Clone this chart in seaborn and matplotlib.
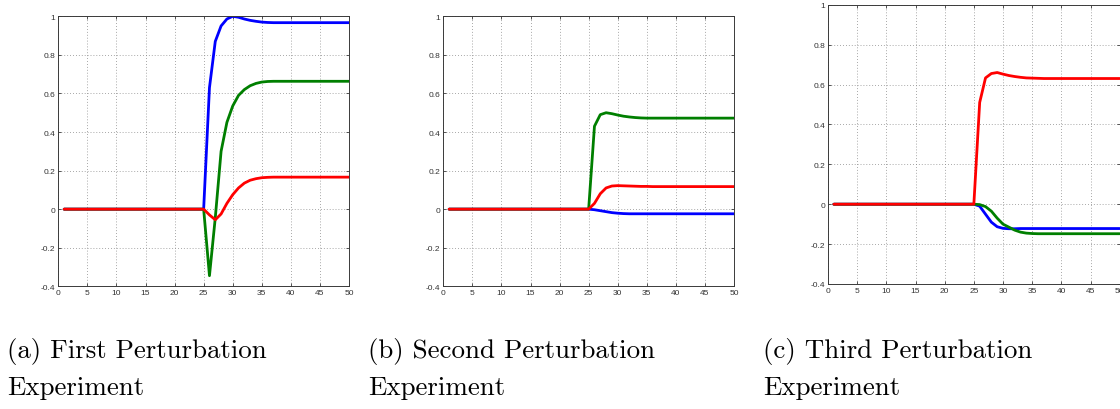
import matplotlib
matplotlib.use("Agg")
import matplotlib.pyplot as plt
from matplotlib.ticker import FuncFormatter
import numpy as np
import pandas as pd
import seaborn as sns

# ---------------- data ----------------
t = list(range(1, 51))

a_blue = [0, 0, 0, 0, 0, 0, 0, 0, 0, 0, 0, 0, 0, 0, 0, 0, 0, 0, 0, 0, 0, 0, 0, 0, 0,
          0.63, 0.87, 0.95, 0.986, 1.0, 0.995, 0.986, 0.979, 0.974, 0.970, 0.968,
          0.967, 0.967, 0.967, 0.967, 0.967, 0.967, 0.967, 0.967, 0.967, 0.967, 0.967, 0.967, 0.967, 0.967]
a_green = [0, 0, 0, 0, 0, 0, 0, 0, 0, 0, 0, 0, 0, 0, 0, 0, 0, 0, 0, 0, 0, 0, 0, 0, 0,
           -0.345, -0.045, 0.30, 0.45, 0.535, 0.59, 0.62, 0.64, 0.652, 0.659, 0.662,
           0.663, 0.663, 0.663, 0.663, 0.663, 0.663, 0.663, 0.663, 0.663, 0.663, 0.663, 0.663, 0.663, 0.663]
a_red = [0, 0, 0, 0, 0, 0, 0, 0, 0, 0, 0, 0, 0, 0, 0, 0, 0, 0, 0, 0, 0, 0, 0, 0, 0,
         -0.03, -0.055, -0.025, 0.03, 0.075, 0.11, 0.135, 0.15, 0.158, 0.163, 0.165,
         0.166, 0.166, 0.166, 0.166, 0.166, 0.166, 0.166, 0.166, 0.166, 0.166, 0.166, 0.166, 0.166, 0.166]

b_blue = [0, 0, 0, 0, 0, 0, 0, 0, 0, 0, 0, 0, 0, 0, 0, 0, 0, 0, 0, 0, 0, 0, 0, 0, 0,
          -0.003, -0.008, -0.013, -0.018, -0.021, -0.023, -0.024, -0.024, -0.024, -0.024, -0.024,
          -0.024, -0.024, -0.024, -0.024, -0.024, -0.024, -0.024, -0.024, -0.024, -0.024, -0.024, -0.024, -0.024, -0.024]
b_green = [0, 0, 0, 0, 0, 0, 0, 0, 0, 0, 0, 0, 0, 0, 0, 0, 0, 0, 0, 0, 0, 0, 0, 0, 0,
           0.43, 0.49, 0.50, 0.495, 0.488, 0.482, 0.478, 0.475, 0.473, 0.472, 0.472,
           0.472, 0.472, 0.472, 0.472, 0.472, 0.472, 0.472, 0.472, 0.472, 0.472, 0.472, 0.472, 0.472, 0.472]
b_red = [0, 0, 0, 0, 0, 0, 0, 0, 0, 0, 0, 0, 0, 0, 0, 0, 0, 0, 0, 0, 0, 0, 0, 0, 0,
         0.03, 0.08, 0.11, 0.12, 0.122, 0.121, 0.12, 0.119, 0.118, 0.118, 0.117,
         0.117, 0.117, 0.117, 0.117, 0.117, 0.117, 0.117, 0.117, 0.117, 0.117, 0.117, 0.117, 0.117, 0.117]

c_blue = [0, 0, 0, 0, 0, 0, 0, 0, 0, 0, 0, 0, 0, 0, 0, 0, 0, 0, 0, 0, 0, 0, 0, 0, 0,
          -0.01, -0.05, -0.09, -0.113, -0.121, -0.123, -0.123, -0.122, -0.122, -0.122, -0.122,
          -0.122, -0.122, -0.122, -0.122, -0.122, -0.122, -0.122, -0.122, -0.122, -0.122, -0.122, -0.122, -0.122, -0.122]
c_green = [0, 0, 0, 0, 0, 0, 0, 0, 0, 0, 0, 0, 0, 0, 0, 0, 0, 0, 0, 0, 0, 0, 0, 0, 0,
           -0.002, -0.012, -0.035, -0.07, -0.1, -0.115, -0.13, -0.14, -0.145, -0.147, -0.148,
           -0.148, -0.148, -0.148, -0.148, -0.148, -0.148, -0.148, -0.148, -0.148, -0.148, -0.148, -0.148, -0.148, -0.148]
c_red = [0, 0, 0, 0, 0, 0, 0, 0, 0, 0, 0, 0, 0, 0, 0, 0, 0, 0, 0, 0, 0, 0, 0, 0, 0,
         0.51, 0.633, 0.655, 0.66, 0.652, 0.645, 0.64, 0.636, 0.633, 0.632, 0.631,
         0.63, 0.63, 0.63, 0.63, 0.63, 0.63, 0.63, 0.63, 0.63, 0.63, 0.63, 0.63, 0.63, 0.63]

series_names = ["blue", "green", "red"]
captions = [("(a) First Perturbation", "Experiment"),
            ("(b) Second Perturbation", "Experiment"),
            ("(c) Third Perturbation", "Experiment")]
x_ticks = [0, 5, 10, 15, 20, 25, 30, 35, 40, 45, 50]
y_ticks = [-0.4, -0.2, 0, 0.2, 0.4, 0.6, 0.8, 1]

panels = [(a_blue, a_green, a_red), (b_blue, b_green, b_red), (c_blue, c_green, c_red)]

# ---------------- styling ----------------
sns.set_style("white")
plt.rcParams["font.family"] = ["Liberation Sans", "DejaVu Sans"]

W, H = 1120, 410
fig = plt.figure(figsize=(W / 100, H / 100), dpi=100)
fig.patch.set_facecolor("white")

# axes boxes in pixel units: left, right, top, bottom
boxes = [(58.3, 349.0, 17.3, 287.3),
         (443.3, 734.0, 17.3, 287.3),
         (828.0, 1119.7, 5.7, 285.0)]
caption_x = [7, 368, 763]

palette = {"blue": "#0000ff", "green": "#007f00", "red": "#ff0000"}


def fmt(v, pos):
    if abs(v) < 1e-9:
        return "0"
    s = f"{v:.1f}"
    if s.endswith(".0"):
        s = s[:-2]
    return s


for (vals, box, cap, cx) in zip(panels, boxes, captions, caption_x):
    l, r, tp, bt = box
    ax = fig.add_axes([l / W, (H - bt) / H, (r - l) / W, (bt - tp) / H])
    rows = []
    for name, arr in zip(series_names, vals):
        assert len(arr) == len(t)
        for tt, v in zip(t, arr):
            rows.append({"t": tt, "value": v, "series": name})
    df = pd.DataFrame(rows)
    sns.lineplot(data=df, x="t", y="value", hue="series", hue_order=series_names,
                 palette=palette, linewidth=2.0, legend=False, ax=ax, estimator=None,
                 sort=False)
    ax.set_xlim(0, 50)
    ax.set_ylim(-0.4, 1)
    ax.set_xticks(x_ticks)
    ax.set_yticks(y_ticks)
    ax.yaxis.set_major_formatter(FuncFormatter(fmt))
    ax.xaxis.set_major_formatter(FuncFormatter(fmt))
    ax.set_xlabel("")
    ax.set_ylabel("")
    ax.grid(True, color="#8a8a8a", linestyle=(0, (1, 2.5)), linewidth=0.6)
    ax.set_axisbelow(True)
    for sp in ax.spines.values():
        sp.set_color("#3a3a3a")
        sp.set_linewidth(0.7)
        sp.set_visible(True)
    ax.tick_params(direction="in", length=2.5, width=0.6, colors="#3a3a3a",
                   labelsize=6, labelcolor="#333333", top=True, right=True,
                   bottom=True, left=True, pad=2)
    fig.text(cx / W, (H - 358) / H, cap[0], fontfamily="cmr10", fontsize=19.4,
             va="baseline", ha="left", color="black")
    fig.text(cx / W, (H - 395) / H, cap[1], fontfamily="cmr10", fontsize=19.4,
             va="baseline", ha="left", color="black")

fig.savefig("out.png", dpi=100, facecolor="white")
